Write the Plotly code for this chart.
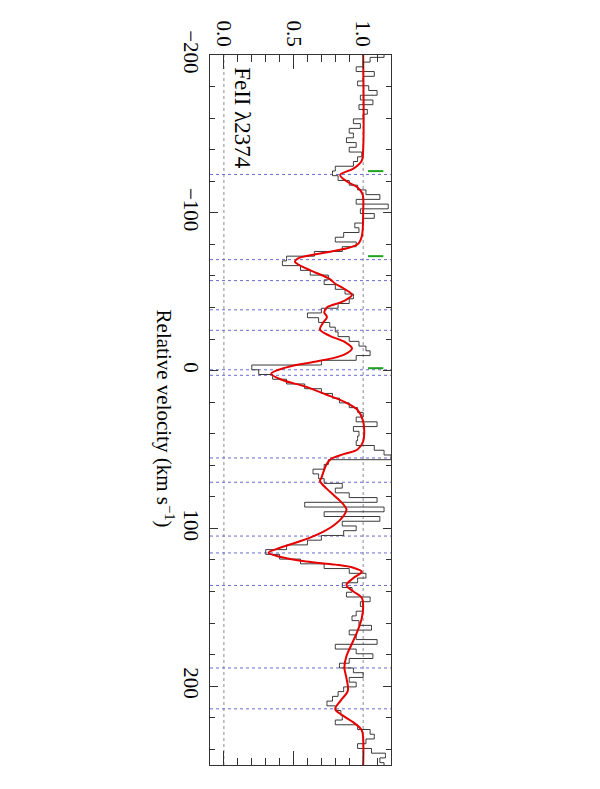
import plotly.graph_objects as go

# ---- data ----
velocity = [-200, -197, -194, -191, -188, -185, -182, -179, -176, -173, -170, -167, -164, -161, -158,
            -155, -152, -149, -146, -143, -140, -137, -134, -131, -128, -125, -122, -119, -116, -113,
            -110, -107, -104, -101, -98, -95, -92, -89, -86, -83, -80, -77, -74, -71, -68,
            -65, -62, -59, -56, -53, -50, -47, -44, -41, -38, -35, -32, -29, -26, -23,
            -20, -17, -14, -11, -8, -5, -2, 1, 4, 7, 10, 13, 16, 19, 22,
            25, 28, 31, 34, 37, 40, 43, 46, 49, 52, 55, 58, 61, 64, 67,
            70, 73, 76, 79, 82, 85, 88, 91, 94, 97, 100, 103, 106, 109, 112,
            115, 118, 121, 124, 127, 130, 133, 136, 139, 142, 145, 148, 151, 154, 157,
            160, 163, 166, 169, 172, 175, 178, 181, 184, 187, 190, 193, 196, 199, 202,
            205, 208, 211, 214, 217, 220, 223, 226, 229, 232, 235, 238, 241, 244, 247, 250]
flux = [1.15, 1.05, 1.00, 0.95, 1.08, 1.00, 0.96, 1.04, 1.10, 0.98, 1.07, 0.97, 1.03, 1.00, 0.93,
        0.98, 0.90, 0.93, 0.88, 0.95, 0.90, 0.99, 0.96, 0.93, 0.80, 0.78, 0.82, 0.90, 0.96, 1.02,
        1.12, 0.95, 1.18, 0.98, 1.08, 1.00, 0.94, 0.97, 0.86, 0.80, 0.95, 0.85, 0.65, 0.45, 0.42,
        0.55, 0.62, 0.75, 0.72, 0.80, 0.87, 0.93, 0.90, 0.82, 0.70, 0.60, 0.68, 0.76, 0.80, 0.82,
        0.90, 0.97, 1.02, 1.05, 0.95, 0.70, 0.20, 0.25, 0.35, 0.45, 0.58, 0.70, 0.78, 0.83, 0.90,
        0.96, 1.00, 0.95, 1.10, 0.93, 0.97, 0.96, 0.95, 1.08, 1.15, 1.20, 0.75, 0.72, 0.64, 0.68,
        0.72, 0.85, 0.80, 0.90, 1.10, 0.58, 1.15, 0.72, 1.12, 0.85, 0.95, 0.86, 0.70, 0.60, 0.45,
        0.30, 0.40, 0.55, 0.72, 0.90, 1.02, 0.96, 0.85, 0.92, 0.88, 1.05, 0.98, 1.00, 0.95, 0.92,
        0.97, 1.06, 0.90, 0.95, 1.10, 0.80, 0.95, 1.07, 0.90, 0.83, 0.93, 1.00, 0.90, 0.95, 0.86,
        0.82, 0.78, 0.74, 0.80, 0.84, 0.85, 0.80, 0.96, 1.05, 1.08, 1.02, 0.96, 1.06, 1.16, 1.12, 1.15]

model_velocity = [-200, -140, -133, -128, -124, -120, -116, -112, -100, -85, -80, -77, -74, -71, -69,
                  -66, -62, -58, -55, -52, -48, -44, -40, -37, -34, -30, -26, -22, -18, -14,
                  -10, -6, -2, 2, 6, 10, 15, 20, 25, 32, 45, 50, 53, 56, 59,
                  63, 68, 70, 75, 79, 84, 88, 92, 98, 104, 109, 113, 115.5, 118, 121,
                  123, 125, 127.5, 131.5, 136, 140, 144, 150, 157, 165, 173, 181, 188, 195, 203,
                  209, 214.5, 219, 223, 228, 233, 250]
model_flux = [1.0, 1.0, 0.99, 0.93, 0.835, 0.88, 0.96, 0.995, 1.0, 0.99, 0.96, 0.86, 0.68, 0.53, 0.51,
              0.56, 0.66, 0.76, 0.80, 0.86, 0.92, 0.86, 0.74, 0.72, 0.74, 0.71, 0.69, 0.76, 0.87, 0.92,
              0.86, 0.68, 0.45, 0.34, 0.42, 0.58, 0.73, 0.87, 0.96, 1.0, 1.0, 0.96, 0.86, 0.77, 0.74,
              0.72, 0.70, 0.69, 0.74, 0.79, 0.85, 0.88, 0.86, 0.79, 0.67, 0.52, 0.38, 0.32, 0.40, 0.59,
              0.80, 0.93, 0.99, 0.93, 0.88, 0.93, 0.99, 1.0, 0.99, 0.96, 0.92, 0.88, 0.865, 0.88, 0.89,
              0.84, 0.80, 0.86, 0.93, 0.99, 1.0, 1.0]

component_velocity = [-124.3, -70.3, -57.0, -38.5, -25.5, -0.5, 3.0, 55.4, 70.8, 104.9, 115.6, 136.2, 188.5, 214.4]
tick_velocity = [-126.4, -72.5, -1.5]
tick_flux_span = [1.035, 1.145]
ref_flux_lines = [0.0, 1.0]

flux_ticks = [0.0, 0.5, 1.0]
flux_tick_text = ["0.0", "0.5", "1.0"]
velocity_ticks = [-200, -100, 0, 100, 200]
velocity_tick_text = ["\u2212200", "\u2212100", "0", "100", "200"]

n = min(len(velocity), len(flux))
velocity, flux = velocity[:n], flux[:n]

FONT = "Liberation Serif"

fig = go.Figure()

# reference flux levels (grey dotted)
for fx in ref_flux_lines:
    fig.add_shape(type="line", xref="x", yref="y domain", x0=fx, x1=fx, y0=0, y1=1,
                  line=dict(color="#8a8a9a", width=1, dash="dot"), layer="below")
# component positions (blue dotted)
for cv in component_velocity:
    fig.add_shape(type="line", xref="x domain", yref="y", x0=0, x1=1, y0=cv, y1=cv,
                  line=dict(color="#6a6ad0", width=1, dash="dot"), layer="below")

fig.add_trace(go.Scatter(x=flux, y=velocity, mode="lines", line_shape="vhv",
                         line=dict(color="#3a3a3a", width=1), hoverinfo="skip"))
fig.add_trace(go.Scatter(x=model_flux, y=model_velocity, mode="lines", line_shape="spline",
                         line=dict(color="#e60000", width=2), hoverinfo="skip"))
for tv in tick_velocity:
    fig.add_trace(go.Scatter(x=tick_flux_span, y=[tv, tv], mode="lines",
                             line=dict(color="#1fa31f", width=2), hoverinfo="skip"))

fig.update_layout(
    width=600, height=789,
    margin=dict(l=202, r=217, t=47, b=32),
    paper_bgcolor="white", plot_bgcolor="white",
    showlegend=False,
    font=dict(family=FONT, size=21, color="black"),
    xaxis=dict(range=[-0.1, 1.2], side="top", tickvals=flux_ticks, ticktext=flux_tick_text,
               tickangle=90, ticks="inside", ticklen=14, tickwidth=1, tickcolor="#333",
               showline=True, linecolor="#333", linewidth=1, mirror="ticks",
               showgrid=False, zeroline=False,
               minor=dict(dtick=0.1, tick0=0, ticks="inside", ticklen=7, tickcolor="#333", showgrid=False),
               tickfont=dict(family=FONT, size=21)),
    yaxis=dict(range=[250, -200], tickvals=velocity_ticks, ticktext=velocity_tick_text,
               tickangle=90, ticks="inside", ticklen=8, tickwidth=1, tickcolor="#333",
               showline=True, linecolor="#333", linewidth=1, mirror="ticks",
               showgrid=False, zeroline=False,
               minor=dict(dtick=20, tick0=0, ticks="inside", ticklen=5, tickcolor="#333", showgrid=False),
               tickfont=dict(family=FONT, size=21)),
    annotations=[
        dict(text="FeII \u03bb2374", xref="paper", yref="paper", x=0.1826, y=0.911,
             xanchor="center", yanchor="middle",
             textangle=90, showarrow=False, font=dict(family=FONT, size=23, color="black")),
        dict(text="Relative velocity (km s<sup>\u22121</sup>)", xref="paper", yref="paper",
             x=-0.249, y=0.488, xanchor="center", yanchor="middle", textangle=90, showarrow=False,
             font=dict(family=FONT, size=21, color="black")),
    ],
)

fig.write_html("out.html")
